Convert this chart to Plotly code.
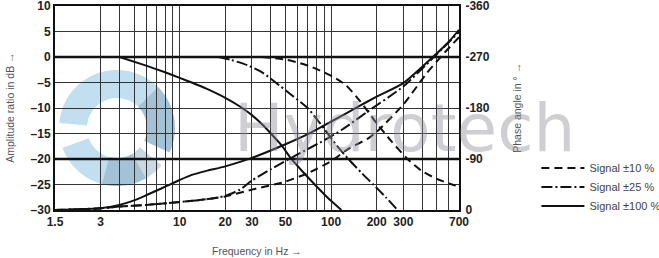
import numpy as np
import plotly.graph_objects as go

# ---------------- data ----------------
amp10_f = [35, 50, 62, 75, 88, 103, 125, 155, 200, 250, 320, 400, 500, 600, 700]
amp10_db = [0, -0.5, -1.2, -2.0, -2.9, -3.9, -5.5, -8.6, -13.0, -16.5, -20, -22.4, -23.9, -24.8, -25.4]

amp25_f = [18, 22, 28, 35, 43, 55, 70, 82, 95, 110, 130, 160, 190, 230, 275]
amp25_db = [0, -0.6, -1.6, -3.0, -5.0, -7.5, -10, -12.5, -15, -17.5, -20, -22.8, -25, -27.5, -30]

amp100_f = [4, 6, 8, 10, 12, 15, 20, 25, 30, 35, 40, 47, 54, 65, 78, 95, 117]
amp100_db = [0, -1.7, -3.0, -4.1, -5.0, -6.2, -8.0, -9.7, -11.4, -13.2, -15, -17.3, -19.8, -22.5, -25, -27.6, -30]

ph10_f = [1.5, 2, 3, 4, 6, 10, 15, 20, 30, 50, 70, 100, 130, 175, 200, 300, 430, 560, 700]
ph10_deg = [0, -1, -3, -6, -9, -14, -19, -24, -36, -50, -65, -86, -108, -126, -138, -186, -242, -277, -305]

ph25_f = [1.5, 2, 3, 4, 6, 10, 15, 20, 25, 30, 40, 60, 90, 120, 175, 300, 470, 700]
ph25_deg = [0, -1, -3, -6, -9, -14, -19, -25, -36, -52, -72, -98, -123, -143, -174, -218, -268, -314]

ph100_f = [1.5, 2, 3, 4, 5, 6, 7, 8, 10, 12, 15, 20, 30, 50, 73, 100, 150, 200, 300, 470, 600, 700]
ph100_deg = [0, -1, -3, -9, -17, -26, -34, -41, -53, -62, -69, -77, -92, -116, -136, -156, -182, -200, -224, -270, -297, -318]

series_names = ["Signal ±10 %", "Signal ±25 %", "Signal ±100 %"]

x_label_vals = [1.5, 3, 10, 20, 30, 50, 100, 200, 300, 700]
x_grid_vals = [4, 5, 6, 7, 8, 9, 40, 60, 70, 80, 90, 400, 500, 600]
y_left_vals = [10, 5, 0, -5, -10, -15, -20, -25, -30]
y_left_text = ["10", "5", "0", "–5", "–10", "–15", "–20", "–25", "–30"]
y_right_vals = [-360, -270, -180, -90, 0]
y_right_text = ["-360", "-270", "-180", "-90", "0"]

# ---------------- figure ----------------
FONT = "Liberation Sans Narrow, Arial Narrow, Liberation Sans, Arial"
dash10 = "8px,5px"
dash25 = "11px,3px,2px,3px"

fig = go.Figure()

styles = [dash10, dash25, "solid"]
amps = [(amp10_f, amp10_db), (amp25_f, amp25_db), (amp100_f, amp100_db)]
phs = [(ph10_f, ph10_deg), (ph25_f, ph25_deg), (ph100_f, ph100_deg)]

for name, st, (f, v) in zip(series_names, styles, amps):
    fig.add_trace(go.Scatter(x=f, y=v, mode="lines", name=name,
                             line=dict(color="#111", width=2, dash=st, shape="spline", smoothing=0.6),
                             yaxis="y"))
for name, st, (f, v) in zip(series_names, styles, phs):
    fig.add_trace(go.Scatter(x=f, y=v, mode="lines", name=name, showlegend=False,
                             line=dict(color="#111", width=2, dash=st, shape="spline", smoothing=0.6),
                             yaxis="y2"))

all_x = sorted(x_label_vals + x_grid_vals)
x_text = [(str(v) if v in x_label_vals else "") for v in all_x]

tickf = dict(family=FONT, size=12, color="#222", weight="bold")
titlef = dict(family=FONT, size=10.5, color="#555")

fig.update_layout(
    width=659, height=258,
    margin=dict(l=55, r=200, t=6, b=48),
    paper_bgcolor="white", plot_bgcolor="white",
    showlegend=True,
    legend=dict(xref="container", yref="container", x=0.814, y=0.405,
                xanchor="left", yanchor="top",
                font=dict(family=FONT, size=11, color="#444"),
                bgcolor="rgba(0,0,0,0)", itemwidth=43, tracegroupgap=0),
    xaxis=dict(type="log", range=[np.log10(1.5), np.log10(700)],
               tickvals=all_x, ticktext=x_text, automargin=False, ticklabeloverflow="allow",
               showgrid=True, gridcolor="#333", gridwidth=1,
               showline=True, linecolor="#111", linewidth=2, mirror=True,
               ticks="", tickfont=tickf, zeroline=False),
    yaxis=dict(range=[-30, 10], tickvals=y_left_vals, ticktext=y_left_text,
               showgrid=True, gridcolor="#333", gridwidth=1, automargin=False,
               ticklabeloverflow="allow",
               showline=True, linecolor="#111", linewidth=2, mirror=True,
               ticks="", zeroline=False, tickfont=tickf),
    yaxis2=dict(range=[0, -360], overlaying="y", side="right", automargin=False,
                ticklabeloverflow="allow",
                tickvals=y_right_vals, ticktext=y_right_text,
                showgrid=False, zeroline=False, ticks="outside", ticklen=3,
                tickcolor="rgba(0,0,0,0)", tickfont=tickf),
)

# thick reference lines at 0 dB and -20 dB
for yv in [0, -20]:
    fig.add_shape(type="line", xref="paper", yref="y", x0=0, x1=1, y0=yv, y1=yv,
                  line=dict(color="#111", width=2.5), layer="above")

# axis titles
fig.add_annotation(text="Frequency in Hz →", xref="paper", yref="paper",
                   x=0.5, y=-0.2, xanchor="center", yanchor="middle", showarrow=False,
                   font=titlef)
fig.add_annotation(text="Amplitude ratio in dB →", xref="paper", yref="paper",
                   x=-0.112, y=0.5, xanchor="center", yanchor="middle", showarrow=False,
                   textangle=-90, font=titlef)
fig.add_annotation(text="Phase angle in ° →", xref="paper", yref="paper",
                   x=1.143, y=0.5, xanchor="center", yanchor="middle", showarrow=False,
                   textangle=-90, font=titlef)

# watermark text
fig.add_annotation(text="Hydrotech", xref="paper", yref="paper",
                   x=0.866, y=0.40, xanchor="center", yanchor="middle", showarrow=False,
                   font=dict(family="DejaVu Sans", size=66, color="rgba(140,140,150,0.42)"))

# watermark logo (decorative ring sectors)
def sector(cx_px, cy_px, r_in, r_out, a0, a1):
    t = np.radians(np.linspace(a0, a1, 40))
    xo = (cx_px + r_out * np.cos(t) - 55) / 404
    yo = (210 - (cy_px - r_out * np.sin(t))) / 204
    xi = (cx_px + r_in * np.cos(t[::-1]) - 55) / 404
    yi = (210 - (cy_px - r_in * np.sin(t[::-1]))) / 204
    xs = np.concatenate([xo, xi])
    ys = np.concatenate([yo, yi])
    return "M " + " L ".join(f"{a:.4f},{b:.4f}" for a, b in zip(xs, ys)) + " Z"

for (a0, a1, col) in [(175, -25, "rgba(120,185,220,0.45)"),
                      (45, -25, "rgba(110,140,165,0.35)"),
                      (200, 300, "rgba(120,185,220,0.45)"),
                      (255, 320, "rgba(110,140,165,0.35)")]:
    fig.add_shape(type="path", xref="paper", yref="paper",
                  path=sector(117, 128, 30, 58, a0, a1),
                  fillcolor=col, line=dict(width=0), layer="below")

fig.write_html("out.html")
